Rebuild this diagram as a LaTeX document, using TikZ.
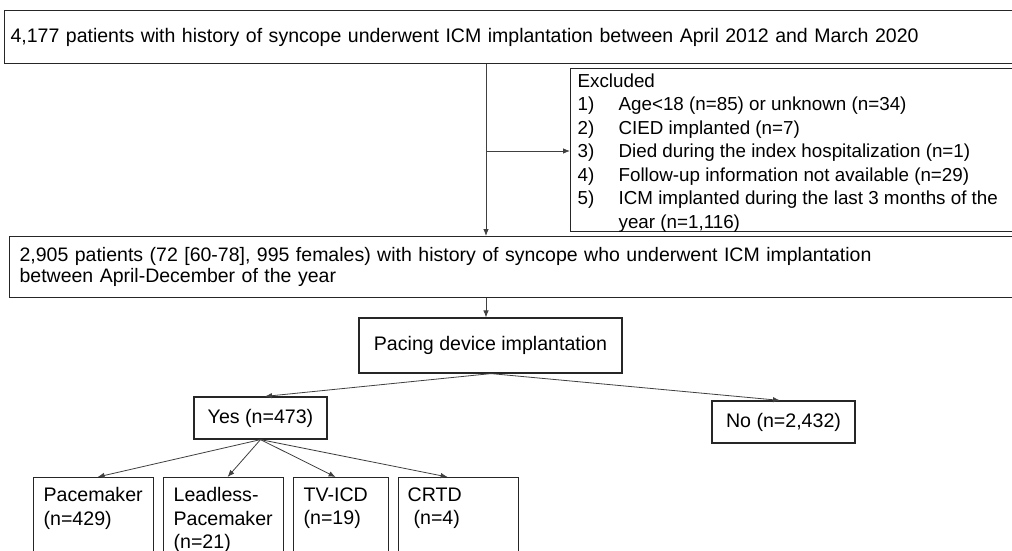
\documentclass[tikz,border=0pt]{standalone}
\usepackage{fontspec}
\setmainfont{Liberation Sans}
\usetikzlibrary{arrows.meta,calc}
\begin{document}
\begin{tikzpicture}[x=1pt,y=-1pt,
  box/.style={draw=black!85, line width=1.2pt, rectangle, inner sep=0pt,
    font=\fontsize{19.6}{23.5}\selectfont},
  arr/.style={draw=black!75, line width=0.8pt, -{Latex[length=7pt,width=5.5pt]}},
  leaf/.style={box, anchor=north west, inner xsep=10pt, inner ysep=10pt}]
\useasboundingbox (0,0) rectangle (1012,551);
\fill[white] (0,0) rectangle (1012,551);
\clip (0,0) rectangle (1012,551);

% study population
\node[box, anchor=north west, minimum height=53pt, text width=1004pt,
  inner xsep=6pt, align=left] (top) at (4,10)
  {\resizebox{908pt}{\height}{4,177 patients with history of syncope underwent ICM implantation between April 2012 and March 2020}};

% exclusions
\node[box, anchor=north west, inner xsep=7pt, inner ysep=5pt] (excl) at (570,68)
  {\begin{minipage}[t][153pt][t]{440pt}\fontsize{18.8}{23.5}\selectfont
   Excluded\\
   \makebox[41pt][l]{1)}Age<18 (n=85) or unknown (n=34)\\
   \makebox[41pt][l]{2)}CIED implanted (n=7)\\
   \makebox[41pt][l]{3)}Died during the index hospitalization (n=1)\\
   \makebox[41pt][l]{4)}Follow-up information not available (n=29)\\
   \makebox[41pt][l]{5)}ICM implanted during the last 3 months of the\\
   \hspace*{41pt}year (n=1,116)
   \end{minipage}};

% analysed cohort
\node[box, anchor=north west, minimum height=61pt, text width=990pt,
  inner xsep=10pt, align=left, font=\fontsize{19.5}{21}\selectfont] (cohort) at (9,236)
  {2,905 patients (72 [60-78], 995 females) with history of syncope who underwent ICM implantation\\
   between April-December of the year};

% pacing device decision
\node[box, minimum width=263pt, minimum height=55pt] (pacing) at (490.5,345.5) {Pacing device implantation};
\node[box, minimum width=133pt, minimum height=42pt] (yes) at (260.5,418) {Yes (n=473)};
\node[box, minimum width=143pt, minimum height=42pt] (no) at (783.5,422) {No (n=2,432)};

% device types
\node[leaf] (pm) at (33,477) {\begin{minipage}[t][70pt][t]{100pt}Pacemaker\\(n=429)\end{minipage}};
\node[leaf] (lp) at (163,477) {\begin{minipage}[t][70pt][t]{100pt}Leadless-\\Pacemaker\\(n=21)\end{minipage}};
\node[leaf] (tv) at (293,477) {\begin{minipage}[t][70pt][t]{75pt}TV-ICD\\(n=19)\end{minipage}};
\node[leaf, inner xsep=9pt] (cr) at (398,477) {\begin{minipage}[t][70pt][t]{102pt}CRTD\\\hspace*{6pt}(n=4)\end{minipage}};

% connectors
\coordinate (mainx) at (486,0);
\coordinate (branch) at (486,151);
\draw[arr] (top.south -| mainx) -- (cohort.north -| mainx);
\draw[arr] (branch) -- (branch -| excl.west);
\draw[arr] (cohort.south -| mainx) -- (pacing.north -| mainx);
\draw[arr] ([xshift=0.5pt]pacing.south) -- ([xshift=4.5pt]yes.north);
\draw[arr] ([xshift=0.5pt]pacing.south) -- ([xshift=-3.5pt]no.north);
\draw[arr] (yes.south) -- ([xshift=4pt]pm.north);
\draw[arr] (yes.south) -- ([xshift=4pt]lp.north);
\draw[arr] (yes.south) -- ([xshift=-5.5pt]tv.north);
\draw[arr] (yes.south) -- ([xshift=-11pt]cr.north);
\end{tikzpicture}
\end{document}
